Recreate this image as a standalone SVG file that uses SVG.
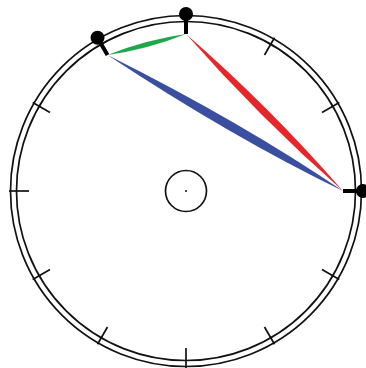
<svg xmlns="http://www.w3.org/2000/svg" width="366" height="368" viewBox="0 0 366 368">
<defs>
<style>
.ring{fill:none;stroke:#111;stroke-width:1.7}
.tick{stroke:#111;stroke-width:1.7}
.stem{stroke:#000;stroke-width:4}
.dot{fill:#000}
</style>
</defs>
<rect width="366" height="368" fill="#fff"/>
<g id="dial">
<circle class="ring" cx="186" cy="191" r="175.5"/>
<circle class="ring" cx="186" cy="191" r="169.5"/>
<circle class="ring" cx="186" cy="191" r="20.5"/>
<circle cx="186" cy="191" r="1" fill="#111"/>
<g id="ticks">
<line class="tick" x1="274.5" y1="37.7" x2="264.5" y2="55"/>
<line class="tick" x1="339.3" y1="102.5" x2="322" y2="112.5"/>
<line class="tick" x1="339.3" y1="279.5" x2="322" y2="269.5"/>
<line class="tick" x1="274.5" y1="344.3" x2="264.5" y2="327"/>
<line class="tick" x1="186" y1="368" x2="186" y2="348"/>
<line class="tick" x1="97.5" y1="344.3" x2="107.5" y2="327"/>
<line class="tick" x1="32.7" y1="279.5" x2="50" y2="269.5"/>
<line class="tick" x1="9" y1="191" x2="29" y2="191"/>
<line class="tick" x1="32.7" y1="102.5" x2="50" y2="112.5"/>
</g>
</g>
<g id="connectors">
<path id="green" d="M107.5,55 Q148,49.3 186,34 Q145.5,39.7 107.5,55Z" fill="#1ea64a"/>
<path id="blue" d="M107.5,55 Q232.5,137.6 343,191 Q241.5,122 107.5,55Z" fill="#3a4fa0"/>
<path id="red" d="M186,34 Q259.5,117.5 343,191 Q269.5,106.5 186,34Z" fill="#e8262a"/>
</g>
<g id="node-top">
<line class="stem" x1="186" y1="34" x2="186" y2="14"/>
<circle class="dot" cx="186" cy="14" r="7"/>
</g>
<g id="node-left">
<line class="stem" x1="107.5" y1="55" x2="97.5" y2="37.7"/>
<circle class="dot" cx="97.5" cy="37.7" r="7"/>
</g>
<g id="node-right">
<line class="stem" x1="343" y1="191" x2="363" y2="191"/>
<circle class="dot" cx="363" cy="191" r="7"/>
</g>
</svg>
